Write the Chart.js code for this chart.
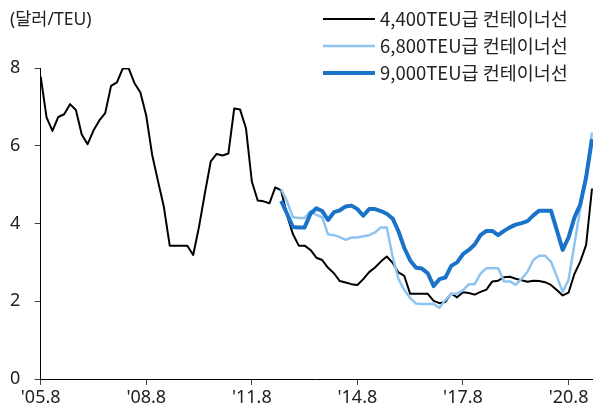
<!DOCTYPE html>
<html>
<head>
<meta charset="utf-8">
<script src="https://cdn.jsdelivr.net/npm/chart.js@4.4.1/dist/chart.umd.min.js"></script>
<style>
  body { margin: 0; background: #fff; }
</style>
</head>
<body>
<canvas id="grafico" width="593" height="410"></canvas>
<script>
// una etiqueta cada 2 meses desde '05.8
var etiquetas = [];
for (var i = 0; i < 95; i++) {
    var m = 7 + i * 2;
    var anno = 2005 + Math.floor(m / 12);
    etiquetas.push("'" + String(anno).slice(2) + "." + (m % 12 + 1));
}
var marcas = ["'05.8", "'08.8", "'11.8", "'14.8", "'17.8", "'20.8"];

var teu4400 = [7.78, 6.73, 6.38, 6.74, 6.81, 7.07, 6.92, 6.29, 6.04, 6.39,
    6.65, 6.84, 7.54, 7.63, 7.99, 7.99, 7.61, 7.37, 6.77, 5.77,
    5.09, 4.43, 3.43, 3.43, 3.43, 3.43, 3.19, 3.92, 4.78, 5.60,
    5.79, 5.75, 5.80, 6.96, 6.93, 6.45, 5.08, 4.59, 4.57, 4.52,
    4.93, 4.85, 4.21, 3.73, 3.43, 3.43, 3.32, 3.12, 3.06, 2.86,
    2.72, 2.52, 2.48, 2.44, 2.42, 2.57, 2.75, 2.87, 3.02, 3.15,
    2.99, 2.74, 2.65, 2.19, 2.19, 2.19, 2.19, 2.01, 1.95, 1.98,
    2.20, 2.10, 2.23, 2.21, 2.17, 2.24, 2.30, 2.51, 2.53, 2.62,
    2.63, 2.58, 2.54, 2.50, 2.53, 2.52, 2.49, 2.42, 2.29, 2.15,
    2.22, 2.70, 3.02, 3.45, 4.90];

// las series de 6,800 y 9,000 empiezan en el punto 41
var sinDatos = Array(41).fill(null);
var teu6800 = sinDatos.concat([4.88, 4.57, 4.16, 4.14, 4.14, 4.32, 4.22, 4.16, 3.72, 3.70,
    3.65, 3.58, 3.64, 3.64, 3.67, 3.70, 3.77, 3.90, 3.90, 3.15,
    2.57, 2.29, 2.08, 1.94, 1.93, 1.93, 1.93, 1.83, 2.03, 2.19,
    2.20, 2.28, 2.44, 2.44, 2.71, 2.85, 2.85, 2.85, 2.51, 2.51,
    2.42, 2.58, 2.76, 3.06, 3.17, 3.17, 3.02, 2.64, 2.24, 2.55,
    3.46, 4.39, 5.25, 6.34]);
var teu9000 = sinDatos.concat([4.58, 4.25, 3.91, 3.90, 3.90, 4.25, 4.39, 4.32, 4.09, 4.29,
    4.34, 4.44, 4.46, 4.37, 4.20, 4.37, 4.37, 4.32, 4.25, 4.13,
    3.80, 3.37, 3.05, 2.86, 2.84, 2.72, 2.39, 2.57, 2.61, 2.91,
    3.00, 3.21, 3.32, 3.46, 3.70, 3.81, 3.81, 3.70, 3.81, 3.90,
    3.97, 4.01, 4.06, 4.21, 4.33, 4.33, 4.33, 3.83, 3.32, 3.64,
    4.15, 4.49, 5.19, 6.17]);

var fuenteKr = '"Noto Sans CJK KR", sans-serif';
var fuente = '"Noto Sans", "Noto Sans CJK KR", sans-serif';

// leyenda dibujada a mano arriba a la derecha
var leyenda = {
    id: 'leyenda',
    afterDraw: function(chart) {
        var ctx = chart.ctx;
        ctx.save();
        ctx.font = '18.5px ' + fuenteKr;
        ctx.textBaseline = 'middle';
        chart.data.datasets.forEach(function(ds, i) {
            var y = 19 + i * 27;
            ctx.strokeStyle = ds.borderColor;
            ctx.lineWidth = ds.borderWidth;
            ctx.beginPath();
            ctx.moveTo(323, y);
            ctx.lineTo(375, y);
            ctx.stroke();
            ctx.fillStyle = '#222';
            ctx.fillText(ds.label, 380, y);
        });
        ctx.restore();
    }
};

new Chart(document.getElementById("grafico"), {
    type: 'line',
    data: {
        labels: etiquetas,
        datasets: [
            { label: '4,400TEU급 컨테이너선', data: teu4400, borderColor: '#000000', borderWidth: 2, order: 3 },
            { label: '6,800TEU급 컨테이너선', data: teu6800, borderColor: '#8ec4f2', borderWidth: 2.5, order: 2 },
            { label: '9,000TEU급 컨테이너선', data: teu9000, borderColor: '#1a73c8', borderWidth: 4, order: 1 }
        ]
    },
    options: {
        responsive: false,
        animation: false,
        devicePixelRatio: 1,
        elements: { point: { radius: 0 }, line: { tension: 0, borderJoinStyle: 'round' } },
        layout: { padding: { left: 10, right: 1, bottom: 0, top: 0 } },
        plugins: {
            legend: { display: false },
            tooltip: { enabled: false },
            title: {
                display: true,
                text: '(달러/TEU)',
                align: 'start',
                color: '#222',
                font: { family: fuente, size: 17.5, weight: 'normal' },
                padding: { top: 10, bottom: 37 }
            }
        },
        scales: {
            x: {
                grid: { drawOnChartArea: false, tickLength: 6, color: '#444' },
                border: { color: '#000' },
                ticks: {
                    autoSkip: false,
                    maxRotation: 0,
                    padding: 1.7,
                    color: '#222',
                    font: { family: fuente, size: 18 },
                    callback: function(val, index) {
                        var e = etiquetas[index];
                        return marcas.indexOf(e) >= 0 ? e : null;
                    }
                }
            },
            y: {
                min: 0,
                max: 8,
                grid: { drawOnChartArea: false, tickLength: 6, color: '#444' },
                border: { color: '#000' },
                ticks: {
                    stepSize: 2,
                    padding: 7.2,
                    crossAlign: 'far',
                    color: '#222',
                    font: { family: fuente, size: 18 }
                }
            }
        }
    },
    plugins: [leyenda]
});
</script>
</body>
</html>
